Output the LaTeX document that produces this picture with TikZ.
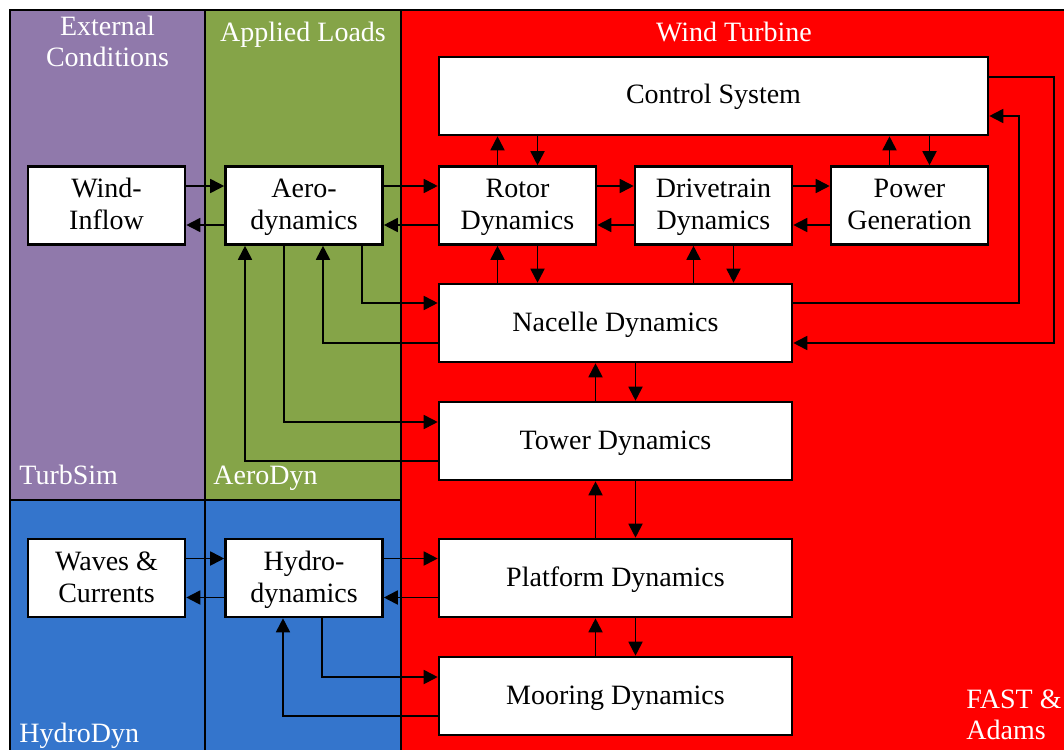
\documentclass[tikz,border=0pt]{standalone}
\usepackage{fontspec}
\setmainfont{Liberation Serif}
\usetikzlibrary{arrows.meta,calc}
\definecolor{cpurple}{RGB}{144,121,171}
\definecolor{cgreen}{RGB}{133,164,72}
\definecolor{cblue}{RGB}{52,117,204}
\definecolor{cred}{RGB}{255,0,0}
\newcommand\bs{\rule[-3.75pt]{0pt}{15.5pt}}
\begin{document}
\begin{tikzpicture}[x=0.5pt,y=-0.5pt,
 region/.style={draw=black,line width=1.2pt},
 box/.style={draw=black,fill=white,line width=1.3pt,minimum width=78.5pt,minimum height=39pt,align=center,inner sep=0pt,font=\fontsize{14}{16}\selectfont},
 widebox/.style={box,minimum width=176.5pt},
 arr/.style={line width=0.9pt,-{Triangle[length=7pt,width=7pt]}},
 lbl/.style={text=white,font=\fontsize{14}{16}\selectfont,inner sep=0pt,align=center},
]
\useasboundingbox (0,0) rectangle (1064,749);
\fill[white] (0,0) rectangle (1064,749);
\begin{scope}
\clip (0,0) rectangle (1064,749);
\filldraw[region,fill=cpurple] (10,10) rectangle (205,500);
\filldraw[region,fill=cgreen] (205,10) rectangle (401,500);
\filldraw[region,fill=cblue] (10,500) rectangle (205,760);
\filldraw[region,fill=cblue] (205,500) rectangle (401,760);
\filldraw[region,fill=cred] (401,10) rectangle (1080,760);
\end{scope}

% region labels
\node[lbl,anchor=base] (lext1) at (107.5,36) {External};
\node[lbl,anchor=base] (lext2) at (107.5,67) {Conditions};
\node[lbl,anchor=base] (lapp) at (303,42) {Applied Loads};
\node[lbl,anchor=base] (lwt) at (734,42) {Wind Turbine};
\node[lbl,anchor=base west] (lts) at (19,484) {TurbSim};
\node[lbl,anchor=base west] (lad) at (213,484) {AeroDyn};
\node[lbl,anchor=base west] (lhd) at (19,742) {HydroDyn};
\node[lbl,anchor=base west] (lfa1) at (966,708) {FAST \&};
\node[lbl,anchor=base west] (lfa2) at (966,739) {Adams};

% boxes
\node[box] (wind) at (106.5,205.5) {Wind-\bs\\Inflow\bs};
\node[box] (aero) at (304,205.5) {Aero-\bs\\dynamics\bs};
\node[box,minimum width=274.5pt] (control) at (713.5,96) {Control System\bs};
\node[box] (rotor) at (517.5,205.5) {Rotor\bs\\Dynamics\bs};
\node[box] (drive) at (713.5,205.5) {Drivetrain\bs\\Dynamics\bs};
\node[box] (power) at (909.5,205.5) {Power\bs\\Generation\bs};
\node[widebox] (nacelle) at (615.5,323) {Nacelle Dynamics\bs};
\node[widebox] (tower) at (615.5,441) {Tower Dynamics\bs};
\node[widebox] (platform) at (615.5,578) {Platform Dynamics\bs};
\node[widebox] (mooring) at (615.5,696) {Mooring Dynamics\bs};
\node[box] (waves) at (106.5,578) {Waves \&\bs\\Currents\bs};
\node[box] (hydro) at (304,578) {Hydro-\bs\\dynamics\bs};

% horizontal pairs
\foreach \a/\b in {wind/aero,aero/rotor,rotor/drive,drive/power,waves/hydro,hydro/platform}{
  \draw[arr] ($(\a.east)+(0,-19.5)$) coordinate (t) -- (t -| \b.west);
  \draw[arr] ($(\b.west)+(0,19.5)$) coordinate (t) -- (t -| \a.east);
}

% vertical pairs (upper box, lower box)
\path ($(rotor.north)+(-20,0)$) coordinate (r1) ($(rotor.north)+(20,0)$) coordinate (r2)
      ($(power.north)+(-20,0)$) coordinate (p1) ($(power.north)+(20,0)$) coordinate (p2)
      ($(drive.north)+(-20,0)$) coordinate (d1) ($(drive.north)+(20,0)$) coordinate (d2)
      ($(nacelle.north)+(-20,0)$) coordinate (n1) ($(nacelle.north)+(20,0)$) coordinate (n2);
\draw[arr] (r1) -- (r1 |- control.south);
\draw[arr] (r2 |- control.south) -- (r2);
\draw[arr] (p1) -- (p1 |- control.south);
\draw[arr] (p2 |- control.south) -- (p2);
\draw[arr] (r1 |- nacelle.north) -- (r1 |- rotor.south);
\draw[arr] (r2 |- rotor.south) -- (r2 |- nacelle.north);
\draw[arr] (d1 |- nacelle.north) -- (d1 |- drive.south);
\draw[arr] (d2 |- drive.south) -- (d2 |- nacelle.north);
\foreach \u/\l in {nacelle/tower,tower/platform,platform/mooring}{
  \draw[arr] (n1 |- \l.north) -- (n1 |- \u.south);
  \draw[arr] (n2 |- \u.south) -- (n2 |- \l.north);
}

% right loops
\draw[arr] ($(control.east)+(0,-19)$) -- ++(65,0) |- ($(nacelle.east)+(0,20)$);
\draw[arr] ($(nacelle.east)+(0,-20)$) -- ++(226,0) |- ($(control.east)+(0,20)$);

% left loops (aerodyn)
\draw[arr] ($(aero.south)+(58,0)$) |- ($(nacelle.west)+(0,-20)$);
\draw[arr] ($(nacelle.west)+(0,20)$) -| ($(aero.south)+(19,0)$);
\draw[arr] ($(aero.south)+(-20,0)$) |- ($(tower.west)+(0,-19)$);
\draw[arr] ($(tower.west)+(0,20)$) -| ($(aero.south)+(-59,0)$);

% hydrodyn loops
\draw[arr] ($(hydro.south)+(18,0)$) |- ($(mooring.west)+(0,-19)$);
\draw[arr] ($(mooring.west)+(0,20)$) -| ($(hydro.south)+(-21,0)$);
\end{tikzpicture}
\end{document}
